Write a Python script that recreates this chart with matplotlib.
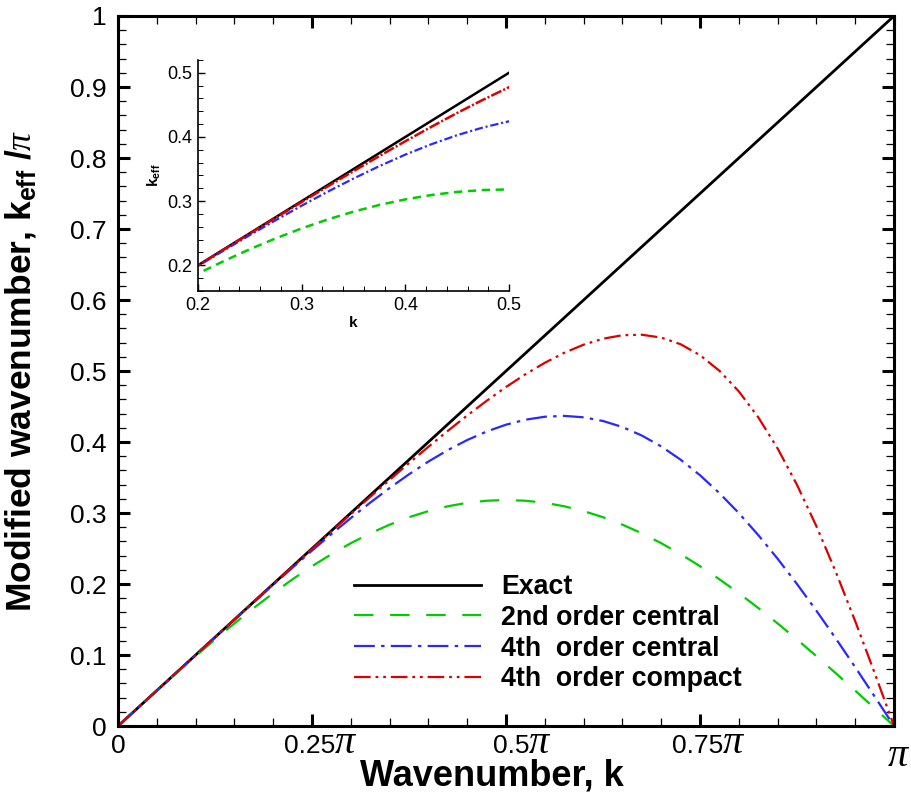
import matplotlib
matplotlib.use("Agg")
import matplotlib.pyplot as plt
from matplotlib.ticker import MultipleLocator

plt.rcParams['font.family'] = ['Liberation Sans', 'DejaVu Sans']
plt.rcParams['mathtext.fontset'] = 'custom'
plt.rcParams['mathtext.rm'] = 'Liberation Sans'
plt.rcParams['mathtext.bf'] = 'Liberation Sans:bold'
plt.rcParams['mathtext.it'] = 'Liberation Serif:italic'
plt.rcParams['lines.scale_dashes'] = False

# wavenumber k/pi
k = [0, 0.025, 0.05, 0.075, 0.1, 0.125, 0.15, 0.175, 0.2, 0.225, 0.25,
     0.275, 0.3, 0.325, 0.35, 0.375, 0.4, 0.425, 0.45, 0.475, 0.5,
     0.525, 0.55, 0.575, 0.6, 0.625, 0.65, 0.675, 0.7, 0.725, 0.75,
     0.775, 0.8, 0.825, 0.85, 0.875, 0.9, 0.925, 0.95, 0.975, 1.0]

exact = [0, 0.025, 0.05, 0.075, 0.1, 0.125, 0.15, 0.175, 0.2, 0.225, 0.25,
         0.275, 0.3, 0.325, 0.35, 0.375, 0.4, 0.425, 0.45, 0.475, 0.5,
         0.525, 0.55, 0.575, 0.6, 0.625, 0.65, 0.675, 0.7, 0.725, 0.75,
         0.775, 0.8, 0.825, 0.85, 0.875, 0.9, 0.925, 0.95, 0.975, 1.0]

central2 = [0, 0.0250, 0.0498, 0.0743, 0.0984, 0.1218, 0.1445, 0.1663, 0.1871, 0.2067, 0.2251,
            0.2420, 0.2575, 0.2714, 0.2836, 0.2941, 0.3027, 0.3095, 0.3144, 0.3173, 0.3183,
            0.3173, 0.3144, 0.3095, 0.3027, 0.2941, 0.2836, 0.2714, 0.2575, 0.2420, 0.2251,
            0.2067, 0.1871, 0.1663, 0.1445, 0.1218, 0.0984, 0.0743, 0.0498, 0.0250, 0]

central4 = [0, 0.0250, 0.0500, 0.0750, 0.1000, 0.1249, 0.1498, 0.1745, 0.1990, 0.2232, 0.2471,
            0.2703, 0.2929, 0.3146, 0.3352, 0.3546, 0.3725, 0.3886, 0.4028, 0.4148, 0.4244,
            0.4314, 0.4356, 0.4368, 0.4348, 0.4296, 0.4211, 0.4091, 0.3938, 0.3751, 0.3532,
            0.3280, 0.2999, 0.2690, 0.2356, 0.1999, 0.1623, 0.1232, 0.0828, 0.0416, 0]

compact4 = [0, 0.0250, 0.0500, 0.0750, 0.1000, 0.1250, 0.1500, 0.1749, 0.1998, 0.2247, 0.2494,
            0.2741, 0.2985, 0.3228, 0.3467, 0.3703, 0.3933, 0.4157, 0.4374, 0.4580, 0.4775,
            0.4954, 0.5116, 0.5256, 0.5371, 0.5455, 0.5504, 0.5511, 0.5471, 0.5377, 0.5223,
            0.5003, 0.4713, 0.4349, 0.3909, 0.3396, 0.2813, 0.2169, 0.1476, 0.0747, 0]

labels = ['Exact', '2nd order central', '4th  order central', '4th  order compact']
xticks = [0, 0.25, 0.5, 0.75, 1.0]
xtick_nums = ['0', '0.25', '0.5', '0.75', '']
yticks = [0, 0.1, 0.2, 0.3, 0.4, 0.5, 0.6, 0.7, 0.8, 0.9, 1.0]
yticklabels = ['0', '0.1', '0.2', '0.3', '0.4', '0.5', '0.6', '0.7', '0.8', '0.9', '1']
inset_ticks = [0.2, 0.3, 0.4, 0.5]
inset_ticklabels = ['0.2', '0.3', '0.4', '0.5']

green = '#00cc00'
blue = '#2828ff'
red = '#dd0000'

fig = plt.figure(figsize=(9.12, 7.92), dpi=100)
ax = fig.add_axes([0.1294, 0.0833, 0.8509, 0.8965])

ax.plot(k, exact, color='black', lw=2.0, label=labels[0])
ax.plot(k, central2, color=green, lw=1.6, dashes=(14, 12), label=labels[1])
ax.plot(k, central4, color=blue, lw=1.6, dashes=(15, 4.5, 2.5, 4.5), label=labels[2])
ax.plot(k, compact4, color=red, lw=1.6, dashes=(12, 3.5, 2, 3.5, 2, 3.5), label=labels[3])

ax.set_xlim(0, 1)
ax.set_ylim(0, 1)
ax.set_xticks(xticks)
ax.set_xticklabels(['0', '', '', '', ''])
ax.set_yticks(yticks)
ax.set_yticklabels(yticklabels)
ax.xaxis.set_minor_locator(MultipleLocator(0.05))
ax.yaxis.set_minor_locator(MultipleLocator(0.02))
ax.tick_params(which='both', direction='in', top=True, right=True)
ax.tick_params(which='major', length=8.5, width=2.2, labelsize=19)
ax.tick_params(which='minor', length=6, width=0.9)
ax.tick_params(axis='x', pad=6)
ax.tick_params(axis='y', pad=8)
for s in ax.spines.values():
    s.set_linewidth(2.2)

# x tick labels: number plus a big serif pi
for xv, num in zip(xticks[1:], xtick_nums[1:]):
    if num:
        ax.annotate(num, xy=(xv, 0), xycoords=('data', 'axes fraction'),
                    xytext=(17, -19.4), textcoords='offset points',
                    ha='right', va='baseline', fontsize=19)
        ax.annotate('π', xy=(xv, 0), xycoords=('data', 'axes fraction'),
                    xytext=(16.5, -19.4), textcoords='offset points',
                    ha='left', va='baseline', fontsize=29,
                    family='Liberation Serif', style='italic')
    else:
        ax.annotate('π', xy=(xv, 0), xycoords=('data', 'axes fraction'),
                    xytext=(3, -29), textcoords='offset points',
                    ha='center', va='baseline', fontsize=29,
                    family='Liberation Serif', style='italic')

ax.set_xlabel('Wavenumber, k', fontsize=26, fontweight='bold')
ax.set_ylabel(r'Modified wavenumber, k$_{\mathbf{eff}}$ /$\pi$', fontsize=25.5, fontweight='bold')
ax.xaxis.set_label_coords(0.482, -0.046)
ax.yaxis.set_label_coords(-0.103, 0.5)

ax.legend(loc='upper left', bbox_to_anchor=(354 / 912, 1 - 574 / 792),
          bbox_transform=fig.transFigure, frameon=False, borderpad=0,
          borderaxespad=0, handlelength=4.75, handletextpad=0.75,
          labelspacing=0.18, prop={'weight': 'bold', 'size': 19.3})

# inset zoom
ins = fig.add_axes([0.2171, 0.6326, 0.341, 0.2917])
ins.plot(k, exact, color='black', lw=1.8)
ins.plot(k, central2, color=green, lw=1.8, dashes=(6, 4))
ins.plot(k, central4, color=blue, lw=1.6, dashes=(6, 2, 1.5, 2))
ins.plot(k, compact4, color=red, lw=1.8, dashes=(8, 1.5, 1.5, 1.5))
ins.set_xlim(0.2, 0.5)
ins.set_ylim(0.16, 0.52)
ins.set_xticks(inset_ticks)
ins.set_xticklabels(inset_ticklabels)
ins.set_yticks(inset_ticks)
ins.set_yticklabels(inset_ticklabels)
ins.xaxis.set_minor_locator(MultipleLocator(0.02))
ins.yaxis.set_minor_locator(MultipleLocator(0.02))
ins.spines['top'].set_visible(False)
ins.spines['right'].set_visible(False)
for s in ['left', 'bottom']:
    ins.spines[s].set_linewidth(1.2)
ins.tick_params(which='both', direction='in')
ins.tick_params(which='major', length=5, width=1.0, labelsize=13, pad=4)
ins.tick_params(which='minor', length=3.5, width=0.7)
ins.set_xlabel('k', fontsize=11, fontweight='bold', labelpad=2)
ins.set_ylabel(r'k$_{\mathbf{eff}}$', fontsize=11, fontweight='bold', labelpad=3)

fig.savefig('out.png', dpi=100)
